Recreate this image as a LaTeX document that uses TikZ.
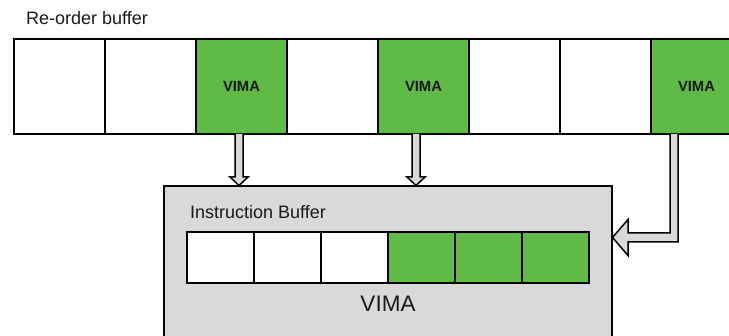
\documentclass[tikz,border=0pt]{standalone}
\usepackage{fontspec}
\setmainfont{Liberation Sans}
\definecolor{cellgreen}{HTML}{60BB46}
\definecolor{boxgray}{HTML}{D9D9D9}
\begin{document}
\begin{tikzpicture}[x=1pt,y=-1pt,
  robcell/.style={draw, line width=1.6pt, fill=white, minimum width=91pt, minimum height=95pt, inner sep=0pt, outer sep=0pt},
  ibcell/.style={draw, line width=1.6pt, fill=white, minimum width=67pt, minimum height=51pt, inner sep=0pt, outer sep=0pt},
  full/.style={fill=cellgreen},
  celltext/.style={font=\fontsize{14.8}{17}\selectfont\bfseries, text=black!90},
  label/.style={font=\fontsize{18}{21}\selectfont, text=black!90, anchor=west, inner sep=0pt},
  blockarrow/.style={draw, line width=1.5pt, fill=boxgray, line join=miter}
]
\clip (0,0) rectangle (729,336);

% Re-order buffer
\node[label] (roblabel) at (26,18) {Re-order buffer};
\foreach \i/\s/\t in {0/0/{}, 1/0/{}, 2/1/VIMA, 3/0/{}, 4/1/VIMA, 5/0/{}, 6/0/{}, 7/1/VIMA} {
  \ifnum\s=1
    \node[robcell, full, celltext] (r\i) at ({14+91*(\i+0.5)},86.5) {\t};
  \else
    \node[robcell] (r\i) at ({14+91*(\i+0.5)},86.5) {};
  \fi
}

% VIMA unit
\node[draw, line width=1.6pt, fill=boxgray, minimum width=448pt, minimum height=170pt,
      inner sep=0pt, outer sep=0pt, anchor=north west] (vima) at (164,186) {};
\node[label] (iblabel) at (190,212) {Instruction Buffer};
\foreach \i/\s in {0/0, 1/0, 2/0, 3/1, 4/1, 5/1} {
  \ifnum\s=1
    \node[ibcell, full] (b\i) at ({187+67*(\i+0.5)},257.5) {};
  \else
    \node[ibcell] (b\i) at ({187+67*(\i+0.5)},257.5) {};
  \fi
}
\node[font=\fontsize{22.5}{26}\selectfont, text=black!90, inner sep=0pt] (vimaname) at (388,304) {VIMA};

% Dispatch arrows from the re-order buffer into the VIMA unit
\draw[blockarrow] (235,134) -- (235,177) -- (230,177) -- (239,185.5) -- (248,177) -- (243,177) -- (243,134);
\draw[blockarrow] (412,134) -- (412,177) -- (407,177) -- (416,185.5) -- (425,177) -- (420,177) -- (420,134);
\draw[blockarrow] (670,134) -- (670,233) -- (628,233) -- (628,219.5) -- (612.5,237.5) -- (628,255.5)
  -- (628,242) -- (678,242) -- (678,134);
\end{tikzpicture}
\end{document}
